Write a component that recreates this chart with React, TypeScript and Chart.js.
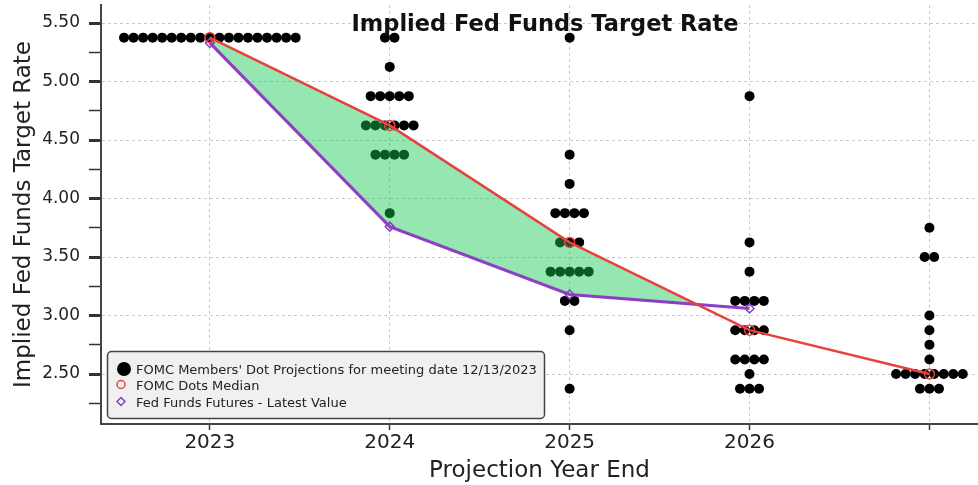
import React, { useEffect, useRef } from 'react';
import { Chart, registerables } from 'chart.js';

Chart.register(...registerables);

// ---------- data ----------
const chartTitle = 'Implied Fed Funds Target Rate';
const yAxisTitle = 'Implied Fed Funds Target Rate';
const xAxisTitle = 'Projection Year End';
const xTickLabels = ['2023', '2024', '2025', '2026', ''];

// [rate, number of participants]
const dots2023 = [[5.375, 19]];
const dots2024 = [[5.375, 2], [5.125, 1], [4.875, 5], [4.625, 6], [4.375, 4], [3.875, 1]];
const dots2025 = [[5.375, 1], [4.375, 1], [4.125, 1], [3.875, 4], [3.625, 3], [3.375, 5], [3.125, 2], [2.875, 1], [2.375, 1]];
const dots2026 = [[4.875, 1], [3.625, 1], [3.375, 1], [3.125, 4], [2.875, 4], [2.625, 4], [2.5, 1], [2.375, 3]];
const dotsLongerRun = [[3.75, 1], [3.5, 2], [3.0, 1], [2.875, 1], [2.75, 1], [2.625, 1], [2.5, 8], [2.375, 3]];

const medianValues = [5.375, 4.625, 3.625, 2.875, 2.5];
const futuresValues = [5.33, 3.76, 3.18, 3.06];

const legendLabels = [
  "FOMC Members' Dot Projections for meeting date 12/13/2023",
  'FOMC Dots Median',
  'Fed Funds Futures - Latest Value',
];

const yTickValues = [2.25, 2.5, 2.75, 3.0, 3.25, 3.5, 3.75, 4.0, 4.25, 4.5, 4.75, 5.0, 5.25, 5.5];

// ---------- styles ----------
const FONT = "'DejaVu Sans', 'Noto Sans', sans-serif";
const RED = '#e8423f';
const PURPLE = '#8e3fc4';
const GREEN_LINE = '#2ecc55';
const GREEN_FILL = 'rgba(20, 200, 80, 0.45)';
const DOT_STEP = 0.053;

const dotsByPeriod = [dots2023, dots2024, dots2025, dots2026, dotsLongerRun];

function buildDots() {
  const pts: { x: number; y: number }[] = [];
  dotsByPeriod.forEach((levels, i) => {
    levels.forEach(([rate, count]) => {
      for (let k = 0; k < count; k++) {
        pts.push({ x: i + (k - (count - 1) / 2) * DOT_STEP, y: rate });
      }
    });
  });
  return pts;
}

function buildFill() {
  const top: { x: number; y: number }[] = [];
  const bottom: { x: number; y: number }[] = [];
  for (let i = 0; i < futuresValues.length; i++) {
    const d0 = medianValues[i] - futuresValues[i];
    top.push({ x: i, y: medianValues[i] });
    bottom.push({ x: i, y: futuresValues[i] });
    if (i + 1 < futuresValues.length) {
      const d1 = medianValues[i + 1] - futuresValues[i + 1];
      if (d0 > 0 && d1 <= 0) {
        const t = d0 / (d0 - d1);
        const cx = i + t;
        const cy = medianValues[i] + t * (medianValues[i + 1] - medianValues[i]);
        top.push({ x: cx, y: cy });
        bottom.push({ x: cx, y: cy });
        break;
      }
    }
  }
  return { top, bottom };
}

const isMajor = (v: number) => Math.abs(v * 2 - Math.round(v * 2)) < 1e-6;

const overlayPlugin = {
  id: 'overlay',
  afterDraw(chart: any) {
    const ctx = chart.ctx;
    ctx.save();
    // title
    ctx.font = `bold 22.5px ${FONT}`;
    ctx.fillStyle = '#111';
    ctx.textAlign = 'center';
    ctx.textBaseline = 'alphabetic';
    ctx.fillText(chartTitle, 545, 31);

    // legend box
    const bx = 107.5, by = 351.5, bw = 437, bh = 67, r = 4;
    ctx.beginPath();
    ctx.moveTo(bx + r, by);
    ctx.lineTo(bx + bw - r, by);
    ctx.arcTo(bx + bw, by, bx + bw, by + r, r);
    ctx.lineTo(bx + bw, by + bh - r);
    ctx.arcTo(bx + bw, by + bh, bx + bw - r, by + bh, r);
    ctx.lineTo(bx + r, by + bh);
    ctx.arcTo(bx, by + bh, bx, by + bh - r, r);
    ctx.lineTo(bx, by + r);
    ctx.arcTo(bx, by, bx + r, by, r);
    ctx.closePath();
    ctx.fillStyle = '#f0f0f0';
    ctx.fill();
    ctx.lineWidth = 1.5;
    ctx.strokeStyle = '#444';
    ctx.stroke();

    // markers
    ctx.beginPath();
    ctx.arc(124, 369, 7, 0, Math.PI * 2);
    ctx.fillStyle = '#000';
    ctx.fill();

    ctx.beginPath();
    ctx.arc(121, 384.5, 4, 0, Math.PI * 2);
    ctx.strokeStyle = RED;
    ctx.lineWidth = 1.5;
    ctx.stroke();

    ctx.beginPath();
    ctx.moveTo(121, 397.5);
    ctx.lineTo(125, 401.5);
    ctx.lineTo(121, 405.5);
    ctx.lineTo(117, 401.5);
    ctx.closePath();
    ctx.strokeStyle = PURPLE;
    ctx.stroke();

    ctx.font = `13px ${FONT}`;
    ctx.fillStyle = '#222';
    ctx.textAlign = 'left';
    ctx.fillText(legendLabels[0], 136, 374);
    ctx.fillText(legendLabels[1], 136, 390);
    ctx.fillText(legendLabels[2], 136, 406.5);
    ctx.restore();
  },
};

export default function App() {
  const ref = useRef<HTMLCanvasElement | null>(null);

  useEffect(() => {
    if (!ref.current) return;
    const fill = buildFill();
    const chart = new Chart(ref.current, {
      type: 'line',
      data: {
        datasets: [
          {
            label: 'fillTop',
            data: fill.top,
            borderColor: GREEN_LINE,
            borderWidth: 1.5,
            pointRadius: 0,
            fill: '+1',
            backgroundColor: GREEN_FILL,
            order: 5,
          },
          {
            label: 'fillBottom',
            data: fill.bottom,
            borderColor: GREEN_LINE,
            borderWidth: 1.5,
            pointRadius: 0,
            fill: false,
            order: 5,
          },
          {
            label: legendLabels[1],
            data: medianValues.map((y, i) => ({ x: i, y })),
            borderColor: RED,
            borderWidth: 2.5,
            pointRadius: 5,
            pointStyle: 'circle',
            pointBorderColor: RED,
            pointBackgroundColor: 'rgba(0,0,0,0)',
            pointBorderWidth: 1.5,
            fill: false,
            order: 1,
          },
          {
            label: legendLabels[2],
            data: futuresValues.map((y, i) => ({ x: i, y })),
            borderColor: PURPLE,
            borderWidth: 3,
            pointRadius: 4.5,
            pointStyle: 'rectRot',
            pointBorderColor: PURPLE,
            pointBackgroundColor: 'rgba(0,0,0,0)',
            pointBorderWidth: 1.5,
            fill: false,
            order: 2,
          },
          {
            label: legendLabels[0],
            data: buildDots(),
            showLine: false,
            pointRadius: 5,
            pointBackgroundColor: '#000',
            pointBorderWidth: 0,
            borderColor: '#000',
            order: 10,
          },
        ],
      },
      options: {
        animation: false,
        responsive: false,
        layout: { autoPadding: false, padding: { top: 5, left: 0, right: 0, bottom: 0 } },
        plugins: {
          legend: { display: false },
          tooltip: { enabled: false },
          title: { display: false },
        },
        scales: {
          x: {
            type: 'linear',
            min: -0.605,
            max: 4.27,
            afterBuildTicks: (s: any) => {
              s.ticks = xTickLabels.map((_, i) => ({ value: i }));
            },
            afterFit: (s: any) => {
              s.height = 61;
              s.paddingLeft = 0;
              s.paddingRight = 0;
            },
            ticks: {
              callback: (v: any) => xTickLabels[Math.round(v)] ?? '',
              font: { family: FONT, size: 20 },
              color: '#222',
              padding: 1,
              autoSkip: false,
              maxRotation: 0,
            },
            grid: {
              color: '#c8c8c8',
              lineWidth: 1,
              tickLength: 6,
              tickColor: '#333',
              tickWidth: 1.5,
            },
            border: { display: true, color: '#444', width: 2, dash: [3, 3] },
            title: {
              display: true,
              text: xAxisTitle,
              font: { family: FONT, size: 23 },
              color: '#222',
              padding: { top: 0, bottom: 0 },
            },
          },
          y: {
            type: 'linear',
            min: 2.073,
            max: 5.654,
            afterBuildTicks: (s: any) => {
              s.ticks = yTickValues.map((v) => ({ value: v }));
            },
            afterFit: (s: any) => {
              s.width = 101;
              s.paddingTop = 0;
              s.paddingBottom = 0;
            },
            ticks: {
              callback: (v: any) => (isMajor(v) ? Number(v).toFixed(2) : ''),
              font: { family: FONT, size: 17 },
              color: '#222',
              padding: 9,
              autoSkip: false,
            },
            grid: {
              color: (c: any) => (c.tick && isMajor(c.tick.value) ? '#c8c8c8' : 'rgba(0,0,0,0)'),
              lineWidth: 1,
              tickLength: 12,
              tickColor: '#333',
              tickWidth: (c: any) => (c.tick && isMajor(c.tick.value) ? 3 : 1.5),
            },
            border: { display: true, color: '#444', width: 2, dash: [3, 3] },
            title: {
              display: true,
              text: yAxisTitle,
              font: { family: FONT, size: 23 },
              color: '#222',
              padding: { top: 10, bottom: 0 },
            },
          },
        },
      },
      plugins: [overlayPlugin],
    } as any);
    return () => chart.destroy();
  }, []);

  return (
    <div style={{ position: 'fixed', left: 0, top: 0, width: 978, height: 485, background: '#fff' }}>
      <canvas ref={ref} width={978} height={485} style={{ display: 'block' }} />
    </div>
  );
}
